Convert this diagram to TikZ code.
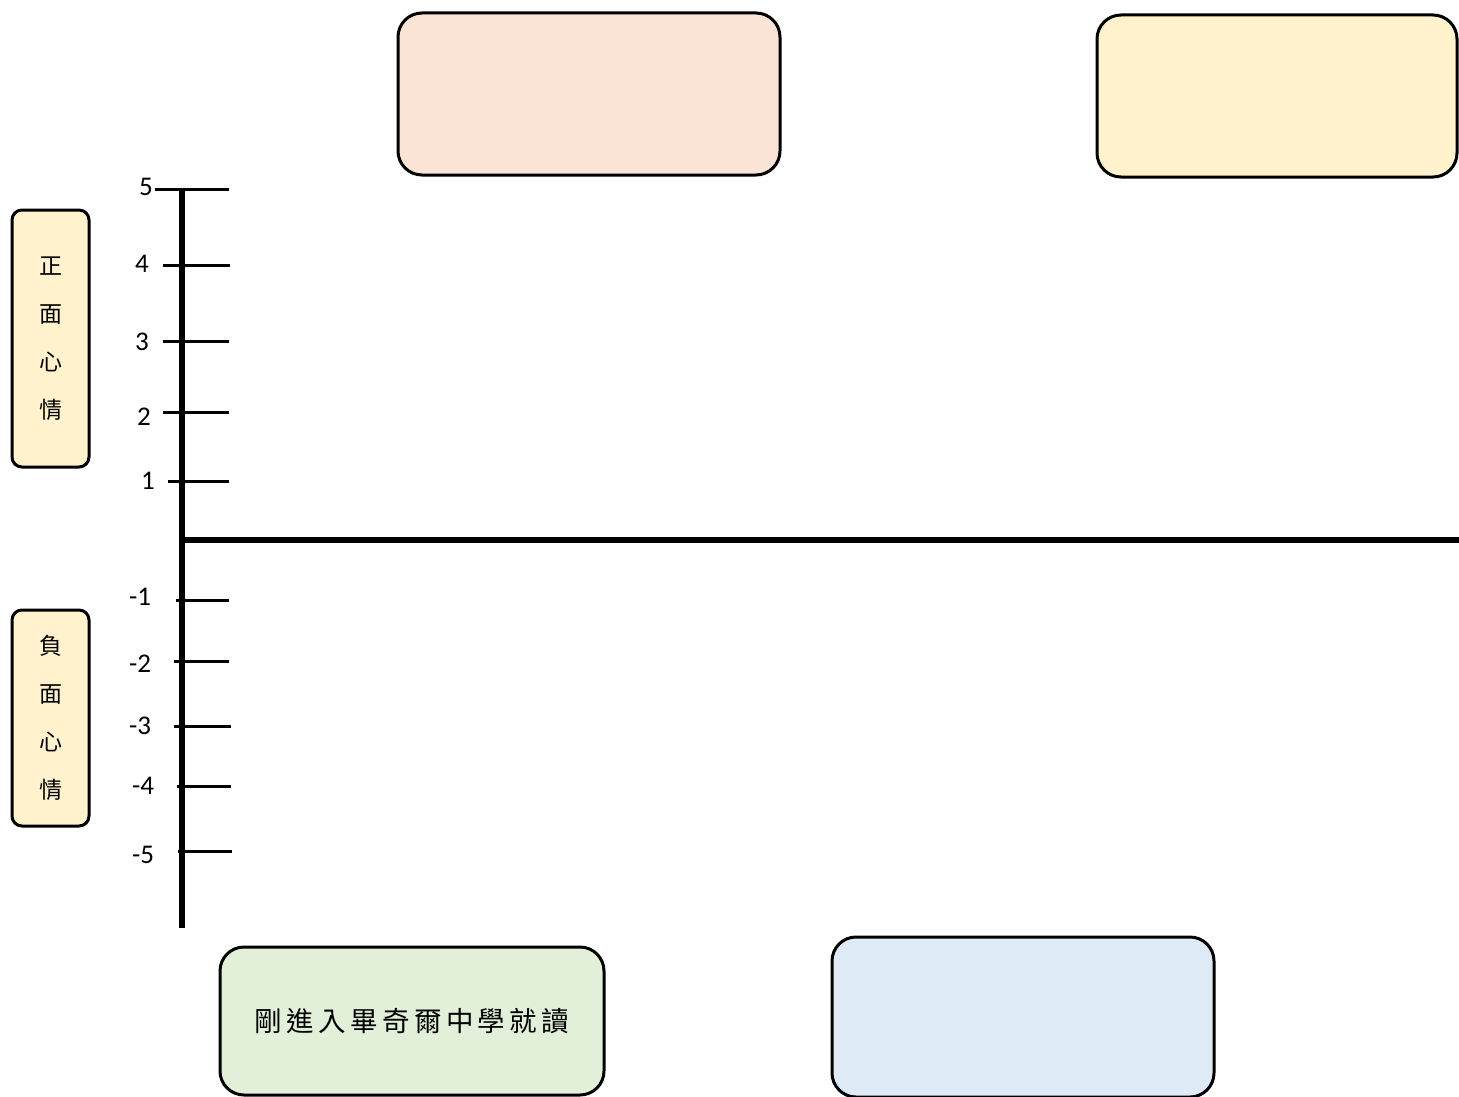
\documentclass[tikz,border=0pt]{standalone}
\usepackage{fontspec}
\setmainfont{Carlito}
\newfontfamily\cjk{Noto Sans CJK TC}
\newfontfamily\cjkspaced[LetterSpace=16]{Noto Sans CJK TC}
\definecolor{peach}{HTML}{FBE4D5}
\definecolor{cream}{HTML}{FFF2CC}
\definecolor{mint}{HTML}{E2EFD9}
\definecolor{skyb}{HTML}{DEEAF6}
\tikzset{
  bigbox/.style={draw=black, line width=3pt, rounded corners=24pt, inner sep=0pt},
  sidebox/.style={draw=black, line width=3pt, rounded corners=10pt, inner sep=0pt, fill=cream},
  axisline/.style={line width=5.5pt},
  tickline/.style={line width=3pt},
  ticklabel/.style={font=\fontsize{27}{27}\selectfont, inner sep=0pt}
}
\begin{document}
\begin{tikzpicture}[x=1pt, y=-1pt]
\useasboundingbox (0,0) rectangle (1459,1097);
% top boxes
\node[bigbox, fill=peach, minimum width=382pt, minimum height=162pt] (peachbox) at (589,94) {};
\node[bigbox, fill=cream, minimum width=360pt, minimum height=162pt] (creambox) at (1277,96) {};
% bottom boxes
\node[bigbox, fill=mint, minimum width=384pt, minimum height=148pt] (startbox) at (412,1021) {\cjkspaced\fontsize{27.5}{27.5}\selectfont 剛進入畢奇爾中學就讀};
\node[bigbox, fill=skyb, minimum width=382pt, minimum height=160pt] (bluebox) at (1023,1017) {};
% side boxes
\node[sidebox, minimum width=77pt, minimum height=257pt, align=center, font={\cjk\fontsize{23}{48}\selectfont}] (posbox) at (50.5,338.5) {正\\面\\心\\情};
\node[sidebox, minimum width=77pt, minimum height=216pt, align=center, font={\cjk\fontsize{23}{48}\selectfont}] (negbox) at (50.5,718) {負\\面\\心\\情};
% axes
\coordinate (ytop) at (182,188);
\coordinate (ybot) at (182,928);
\coordinate (xl) at (182,540);
\coordinate (xr) at (1459,540);
\draw[axisline] (ytop) -- (ybot);
\draw[axisline] (xl) -- (xr);
% positive ticks
\draw[tickline] (155,189) -- (229,189);
\draw[tickline] (163,265) -- (230,265);
\draw[tickline] (163,341) -- (229,341);
\draw[tickline] (163,412) -- (229,412);
\draw[tickline] (168,481) -- (229,481);
% negative ticks
\draw[tickline] (176,600) -- (229,600);
\draw[tickline] (174,661) -- (229,661);
\draw[tickline] (174,726) -- (231,726);
\draw[tickline] (177,786) -- (231,786);
\draw[tickline] (178,851) -- (232,851);
% labels
\node[ticklabel] (l5) at (146,187) {5};
\node[ticklabel] (l4) at (142,264) {4};
\node[ticklabel] (l3) at (142,342) {3};
\node[ticklabel] (l2) at (144,417) {2};
\node[ticklabel] (l1) at (148,481) {1};
\node[ticklabel] (lm1) at (140,597) {-1};
\node[ticklabel] (lm2) at (140,664) {-2};
\node[ticklabel] (lm3) at (140,726) {-3};
\node[ticklabel] (lm4) at (143,786) {-4};
\node[ticklabel] (lm5) at (143,855) {-5};
\end{tikzpicture}
\end{document}
